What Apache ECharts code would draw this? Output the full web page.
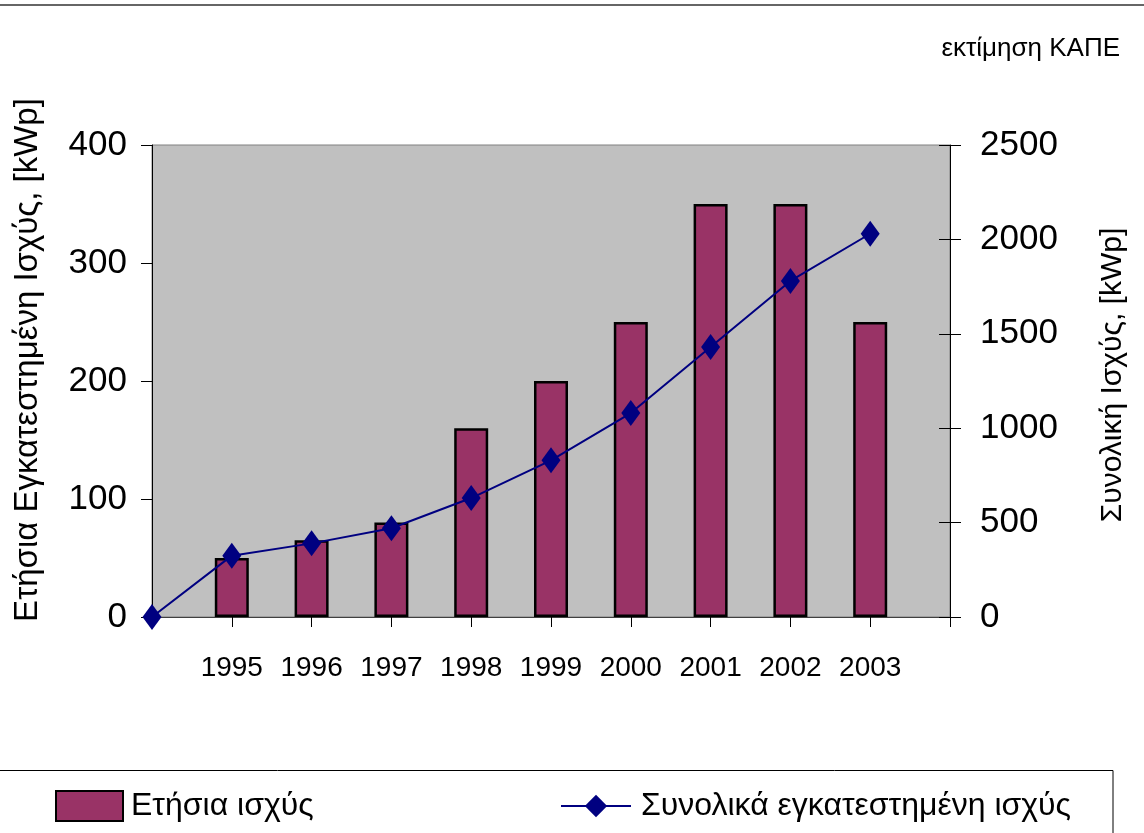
<!DOCTYPE html>
<html>
<head>
<meta charset="utf-8">
<title>chart</title>
<script src="https://cdn.jsdelivr.net/npm/echarts@6/dist/echarts.min.js"></script>
<style>
    html, body { margin: 0; padding: 0; background: #fff; }
    #chart { width: 1144px; height: 833px; }
</style>
</head>
<body>
<div id="chart"></div>
<script>
// categories: empty slot before 1995 and after 2003 (the line starts at 0 on the left edge)
var years = ['', '1995', '1996', '1997', '1998', '1999', '2000', '2001', '2002', '2003', ''];
var annualPower = [null, 50, 65, 80, 160, 200, 250, 350, 350, 250, null];   // Ετήσια ισχύς
var totalPower = [0, 325, 390, 470, 630, 830, 1080, 1430, 1780, 2030, null]; // Συνολικά εγκατεστημένη ισχύς
var leftTicks = [0, 100, 200, 300, 400];
var rightTicks = [0, 500, 1000, 1500, 2000, 2500];

var barName = 'Ετήσια ισχύς';
var lineName = 'Συνολικά εγκατεστημένη ισχύς';
var font = 'Liberation Sans, Arial, sans-serif';

var myChart = echarts.init(document.getElementById('chart'));
var option = {
    animation: false,
    textStyle: { fontFamily: font },
    title: {
        text: 'εκτίμηση ΚΑΠΕ',
        right: 19,
        top: 31,
        textStyle: { fontSize: 26, fontWeight: 'normal', color: '#000', fontFamily: font }
    },
    grid: {
        left: 152,
        top: 145,
        width: 798,
        height: 472,
        show: true,
        backgroundColor: '#c0c0c0',
        borderColor: '#808080',
        borderWidth: 1,
        outerBoundsMode: 'none'
    },
    legend: [
        {
            data: [barName],
            left: 55,
            top: 790,
            padding: 0,
            icon: 'rect',
            itemWidth: 67,
            itemHeight: 30,
            textStyle: { fontSize: 32, color: '#000', fontFamily: font, padding: [0, 0, 0, 3] }
        },
        {
            data: [lineName],
            left: 560,
            top: 790,
            padding: 0,
            itemWidth: 70,
            itemHeight: 28,
            textStyle: { fontSize: 32, color: '#000', fontFamily: font, padding: [0, 0, 0, 5] }
        }
    ],
    xAxis: [
        {
            type: 'category',
            data: years,
            boundaryGap: false,
            axisLine: { lineStyle: { color: '#404040', width: 1 } },
            axisTick: { show: true, length: 10, interval: 0, lineStyle: { color: '#000' } },
            axisLabel: { fontSize: 28, margin: 37, color: '#000', interval: 0, fontFamily: font },
            splitLine: { show: false }
        },
        {
            // inner half of the crossing ticks
            type: 'category',
            data: years,
            position: 'bottom',
            boundaryGap: false,
            axisLine: { show: false },
            axisTick: { show: true, inside: true, length: 7, interval: 0, lineStyle: { color: '#000' } },
            axisLabel: { show: false },
            splitLine: { show: false }
        }
    ],
    yAxis: [
        {
            type: 'value',
            position: 'left',
            min: leftTicks[0],
            max: leftTicks[leftTicks.length - 1],
            interval: leftTicks[1] - leftTicks[0],
            axisLine: { show: true, lineStyle: { color: '#000' } },
            axisTick: { show: true, length: 11, lineStyle: { color: '#000' } },
            axisLabel: { fontSize: 35, margin: 25, color: '#000', fontFamily: font },
            splitLine: { show: false }
        },
        {
            type: 'value',
            position: 'right',
            min: rightTicks[0],
            max: rightTicks[rightTicks.length - 1],
            interval: rightTicks[1] - rightTicks[0],
            axisLine: { show: true, lineStyle: { color: '#000' } },
            axisTick: { show: true, length: 11, lineStyle: { color: '#000' } },
            axisLabel: {
                fontSize: 35, margin: 30, color: '#000', fontFamily: font,
                formatter: function (v) { return String(v); }
            },
            splitLine: { show: false }
        },
        {
            // inner half of the right crossing ticks
            type: 'value',
            position: 'right',
            min: rightTicks[0],
            max: rightTicks[rightTicks.length - 1],
            interval: rightTicks[1] - rightTicks[0],
            axisLine: { show: false },
            axisTick: { show: true, inside: true, length: 11, lineStyle: { color: '#000' } },
            axisLabel: { show: false },
            splitLine: { show: false }
        }
    ],
    graphic: [
        {
            type: 'line',
            shape: { x1: 0, y1: 5, x2: 1144, y2: 5 },
            style: { stroke: '#666', lineWidth: 2 }
        },
        {
            type: 'rect',
            shape: { x: -2, y: 770.5, width: 1115, height: 90 },
            style: { stroke: '#000', lineWidth: 1, fill: 'none' }
        },
        {
            type: 'text',
            x: 28,
            y: 360,
            rotation: Math.PI / 2,
            style: {
                text: 'Ετήσια Εγκατεστημένη Ισχύς, [kWp]',
                font: '33px Liberation Sans, Arial, sans-serif',
                fill: '#000',
                align: 'center',
                verticalAlign: 'middle'
            }
        },
        {
            type: 'text',
            x: 1113,
            y: 375,
            rotation: Math.PI / 2,
            style: {
                text: 'Συνολική Ισχύς, [kWp]',
                font: '30px Liberation Sans, Arial, sans-serif',
                fill: '#000',
                align: 'center',
                verticalAlign: 'middle'
            }
        }
    ],
    series: [
        {
            name: barName,
            type: 'bar',
            xAxisIndex: 0,
            yAxisIndex: 0,
            data: annualPower,
            barWidth: 34,
            itemStyle: { color: '#993366', borderColor: '#000', borderWidth: 2.5 }
        },
        {
            name: lineName,
            type: 'line',
            xAxisIndex: 0,
            yAxisIndex: 1,
            data: totalPower,
            symbol: 'diamond',
            symbolSize: [19, 26],
            lineStyle: { color: '#000080', width: 2 },
            itemStyle: { color: '#000080' }
        }
    ]
};
myChart.setOption(option);
</script>
</body>
</html>
